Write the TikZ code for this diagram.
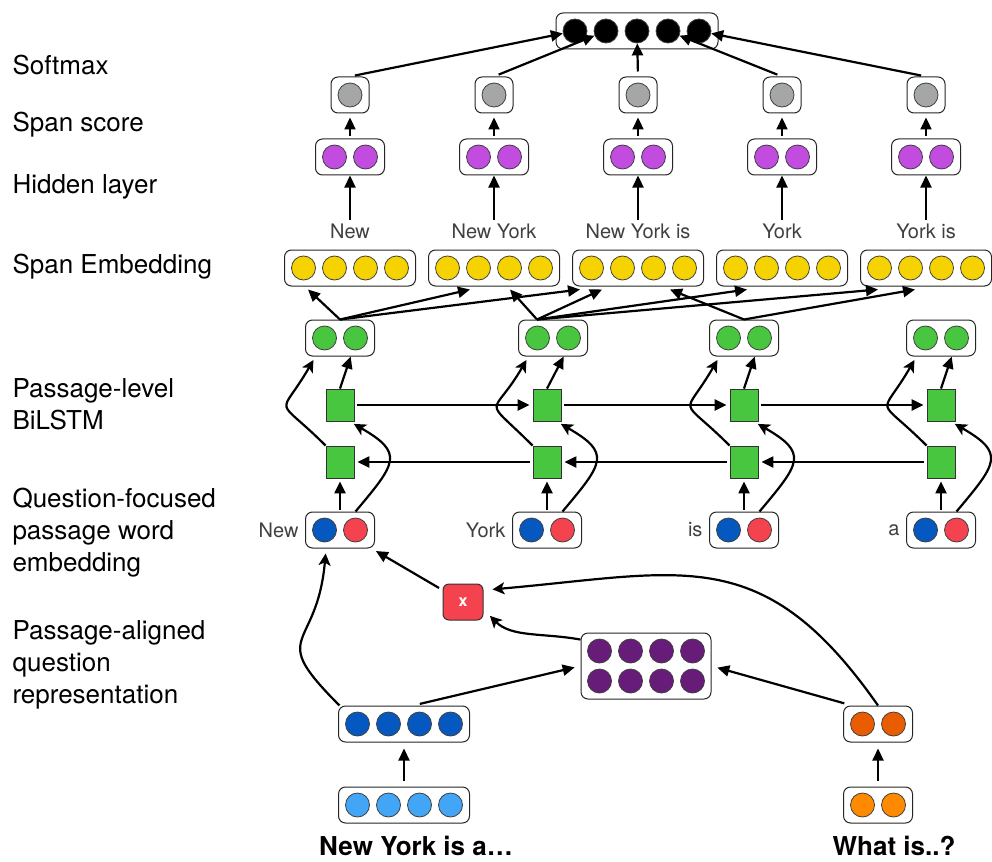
\documentclass[tikz,border=0pt]{standalone}
\usepackage{fontspec}
\setmainfont{TeX Gyre Heros}
\usepackage{tikz}
\usetikzlibrary{positioning, arrows.meta, calc}

\definecolor{cgray}{HTML}{A4A7A5}
\definecolor{cpurple}{HTML}{C24BE0}
\definecolor{cyellow}{HTML}{F5D300}
\definecolor{cgreen}{HTML}{49C63F}
\definecolor{cblue}{HTML}{0558C0}
\definecolor{cred}{HTML}{F4434F}
\definecolor{cdpurple}{HTML}{661C78}
\definecolor{clblue}{HTML}{42A5F5}
\definecolor{corange}{HTML}{E95D00}
\definecolor{clorange}{HTML}{FF8A00}

\newcommand{\unitrow}[4]{%
  \node[vbox, minimum width={(#3-1)*31pt+38pt}] (#1) at (#2) {};
  \foreach \k in {1,...,#3}
    \node[unit, fill=#4] (#1-\k) at ($(#1)+({(\k-(#3+1)/2)*31},0)$) {};
}

\begin{document}
\begin{tikzpicture}[
    x=1pt, y=1pt,
    vbox/.style={
        draw=black!85,
        fill=white,
        rounded corners=7pt,
        line width=1pt,
        minimum height=36pt,
        inner sep=0pt
    },
    unit/.style={circle, draw=black!75, line width=0.8pt, minimum size=24pt, inner sep=0pt},
    lstm/.style={draw=black!80, fill=cgreen, line width=0.8pt, minimum width=28pt, minimum height=32pt, inner sep=0pt},
    layer/.style={anchor=west, align=left, font=\fontsize{26}{32}\selectfont},
    span/.style={text=black!75, font=\fontsize{20}{24}\selectfont},
    arr/.style={-{Triangle[length=12pt,width=11pt]}, line width=2.2pt},
    curvarr/.style={-{Stealth[length=12pt,width=12pt,inset=3pt]}, line width=2.2pt}
]

\useasboundingbox (0,0) rectangle (992,-861);

\node[layer] (lsoft) at (9,-65) {Softmax};
\node[layer] (lscore) at (9,-125) {Span score};
\node[layer] (lhid) at (9,-187) {Hidden layer};
\node[layer] (lemb) at (9,-267) {Span Embedding};
\node[layer] (lbilstm) at (9,-404) {Passage-level\\BiLSTM};
\node[layer] (lqfocus) at (9,-533) {Question-focused\\passage word\\embedding};
\node[layer] (lalign) at (9,-665) {Passage-aligned\\question\\representation};

% spans
\unitrow{out}{637,-31}{5}{black}
\foreach \i/\x/\t in {1/350/New, 2/494/New York, 3/638/New York is, 4/782/York, 5/926/York is} {
  \unitrow{s\i}{\x,-95}{1}{cgray}
  \unitrow{h\i}{\x,-157}{2}{cpurple}
  \unitrow{e\i}{\x,-268}{4}{cyellow}
  \node[span] (sp\i) at (\x,-231) {\t};
  \draw[arr, shorten <=5pt] (s\i.north) -- (out-\i);
  \draw[arr, shorten <=2pt, shorten >=4pt] (h\i.north) -- (s\i.south);
  \draw[arr] (sp\i.north) -- (h\i.south);
}

% passage BiLSTM
\foreach \i/\x/\gx/\t in {1/340/340/New, 2/547/553/York, 3/744/744/is, 4/941/941/a} {
  \unitrow{g\i}{\gx,-338}{2}{cgreen}
  \node[lstm] (f\i) at (\x,-405) {};
  \node[lstm] (b\i) at (\x,-462) {};
  \node[vbox, minimum width=69pt] (w\i) at (\x,-530) {};
  \node[unit, fill=cblue] (w\i-1) at ($(w\i)+(-15.5,0)$) {};
  \node[unit, fill=cred] (w\i-2) at ($(w\i)+(15.5,0)$) {};
  \node[span, left=3pt of w\i] (nw\i) {\t};
  \draw[arr, shorten <=2pt, shorten >=3pt] (w\i.north) -- (b\i.south);
  \draw[curvarr, shorten >=5pt] (w\i.50) to[out=50, in=-30, looseness=1.8] (f\i.-60);
  \draw[curvarr, shorten >=4pt] (b\i.north west) to[out=135, in=-120, looseness=2.1] (g\i.-143);
  \draw[arr] (f\i.north) -- (g\i.-60);
}
\foreach \i/\j in {1/2, 2/3, 3/4} {
  \draw[arr, shorten <=3pt, shorten >=3pt] (f\i.east) -- (f\j.west);
  \draw[arr, shorten <=3pt, shorten >=3pt] (b\j.west) -- (b\i.east);
}
\foreach \a/\sx/\b/\dx in {g1/0/e1/-42, g1/0/e2/-24, g1/0/e3/-58, g2/-16/e2/16, g2/-16/e3/-36,
                          g2/-16/e4/-35, g2/-16/e5/-48, g3/0/e3/32, g3/0/e5/-11}
  \draw[arr] ([xshift=\sx pt]\a.north) -- ([xshift=\dx pt, yshift=-3pt]\b.south);

% question side
\unitrow{pb}{404,-724}{4}{cblue}
\unitrow{pe}{404,-805}{4}{clblue}
\unitrow{qb}{878,-724}{2}{corange}
\unitrow{qe}{878,-805}{2}{clorange}
\node[font=\bfseries\fontsize{26}{30}\selectfont] (ptext) at (416,-846) {New York is a…};
\node[font=\bfseries\fontsize{26}{30}\selectfont] (qtext) at (894,-846) {What is..?};

\node[vbox, minimum width=130pt, minimum height=66pt] (att) at (646,-666) {};
\foreach \r in {1,2}
  \foreach \c in {1,...,4}
    \node[unit, fill=cdpurple] (att-\r\c) at ($(att)+({(\c-2.5)*31},{(1.5-\r)*30})$) {};

\node[draw=black!80, fill=cred, rounded corners=6pt, line width=1pt, minimum width=40pt, minimum height=36pt,
      text=white, font=\bfseries\fontsize{16}{18}\selectfont] (mul) at (463,-602) {x};

\draw[arr, shorten <=6pt, shorten >=6pt] (pe.north) -- (pb.south);
\draw[arr, shorten <=6pt, shorten >=6pt] (qe.north) -- (qb.south);
\draw[arr, shorten <=7pt, shorten >=6pt] ([xshift=9pt]pb.north) -- (att.west);
\draw[arr, shorten <=8pt, shorten >=6pt] ([xshift=-26pt]qb.north) -- (att.east);
\draw[curvarr, shorten >=9pt] (att.158) to[out=170, in=-45] (mul.-20);
\draw[curvarr, shorten >=9pt] (qb.north) to[out=125, in=5, looseness=1.25] (mul.30);
\draw[arr, shorten <=4pt, shorten >=5pt] (mul) -- (w1);
\draw[curvarr, shorten >=5pt] (pb.164) to[out=135, in=-95, looseness=1.7] (w1.-127);

\end{tikzpicture}
\end{document}
